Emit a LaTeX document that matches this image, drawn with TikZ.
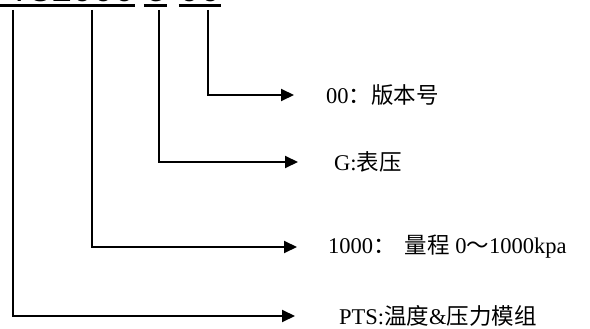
\documentclass[tikz,border=0pt]{standalone}
\usepackage{fontspec}
\setmainfont{Liberation Serif}
\newfontfamily\cjk{Noto Sans CJK SC}
\newfontfamily\titlefont{Liberation Mono}
\usetikzlibrary{arrows.meta}
\tikzstyle{lab} = [anchor=west,inner sep=0pt,font=\fontsize{22.5}{27}\selectfont]
\tikzstyle{word} = [anchor=base,inner sep=0pt,font=\titlefont\fontsize{35}{40}\selectfont]
\tikzstyle{uline} = [line width=3pt]
\tikzstyle{link} = [line width=2pt,-{Triangle[length=13pt,width=12pt]}]

\begin{document}
\begin{tikzpicture}[x=1pt,y=-1pt]
	\useasboundingbox (0,0) rectangle (590,329);

	% part number, only its lower edge is seen
	\node[word,anchor=base east](ptsword) at (135,2) {PTS1000};
	\node[word](gword) at (155.5,2) {G};
	\node[word](verword) at (200,2) {00};
	\draw[uline] ([yshift=-3.5pt]ptsword.base west) -- ([yshift=-3.5pt]ptsword.base east);
	\draw[uline] ([xshift=-1pt,yshift=-3.5pt]gword.base west) -- ([xshift=1pt,yshift=-3.5pt]gword.base east);
	\draw[uline] ([yshift=-3.5pt]verword.base west) -- ([yshift=-3.5pt]verword.base east);

	\coordinate (ptsleg) at (13,10);
	\coordinate (rangeleg) at (92,10);
	\coordinate (gleg) at (159,10);
	\coordinate (verleg) at (208,10);

	% meaning of each part
	\node[lab](version) at (326,95) {00{\cjk ：版本号}};
	\node[lab](gauge) at (334,162) {G:{\cjk 表压}};
	\node[lab](range) at (328,247) {1000{\cjk ：\hspace{0.4em}量程} 0{\cjk ～}1000kpa};
	\node[lab](type) at (339,316) {PTS:{\cjk 温度}\&{\cjk 压力模组}};

	\draw[link,shorten >=32pt] (verleg) |- (version);
	\draw[link,shorten >=36pt] (gleg) |- (gauge);
	\draw[link,shorten >=31pt] (rangeleg) |- (range);
	\draw[link,shorten >=44pt] (ptsleg) |- (type);

\end{tikzpicture}
\end{document}
